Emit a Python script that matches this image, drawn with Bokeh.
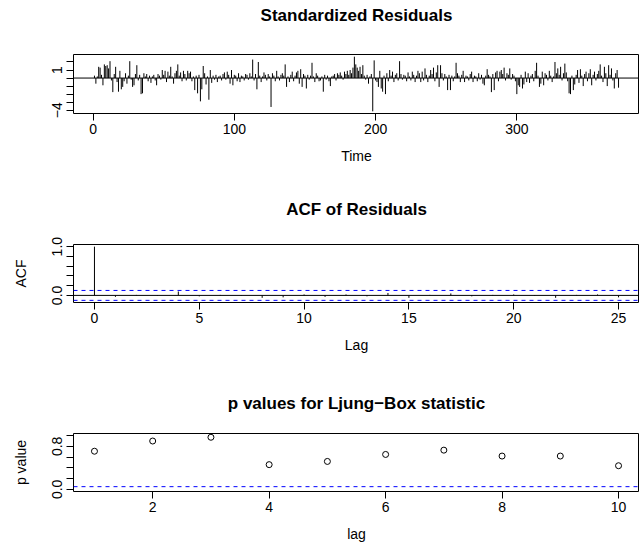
from bokeh.plotting import figure
from bokeh.layouts import column
from bokeh.models import Range1d, FixedTicker, Span, LinearAxis
from bokeh.embed import file_html
from bokeh.resources import INLINE

FONT = "Liberation Sans"

# ---------------- data ----------------
residuals = [
    0.3, -0.7, 0.2, 1.4, 1.3, 0.4, -0.9, 1.7, 1.5, 1.6,
    1.2, 2.1, -0.3, -1.75, 0.5, 1.4, -0.5, -1.7, 0.9, -1.4,
    -1.1, -0.4, 0.6, -0.7, 0.3, 2.1, -0.2, -1.1, -0.9, 0.5,
    1.6, -0.3, 0.4, -2.0, -1.9, 0.6, 0.2, 0.5, -0.4, 0.3,
    -0.6, 0.2, 0.4, -0.3, -0.9, 0.5, 0.3, -0.2, 1.0, 0.4,
    0.9, -0.5, 0.8, 0.3, 1.4, 0.2, -0.7, 0.6, 0.9, 1.7,
    0.3, 0.7, -0.4, 0.9, 0.5, -0.3, 0.9, 0.6, 0.8, -0.4,
    0.2, -1.5, 0.3, -1.9, 0.4, -2.9, -1.4, 1.5, 0.6, -0.8,
    0.2, -2.7, 1.0, -0.6, 0.3, -0.2, 0.4, -0.5, 0.2, 0.3,
    -0.3, 0.5, 0.7, -0.2, 0.8, 0.4, -0.7, 1.0, -0.9, 0.4,
    0.3, -0.4, 0.6, -0.5, 0.3, 0.2, -0.3, 0.5, 0.4, -0.2,
    0.6, 0.2, 2.3, -0.3, 0.5, -1.4, 2.0, 0.3, -0.5, 0.2,
    0.7, 0.4, -0.3, 0.5, 0.2, -3.6, 0.6, 0.3, -0.4, 0.9,
    0.2, -0.3, 0.4, 0.6, 0.3, 1.7, -1.1, 0.2, -0.5, 0.4,
    0.8, -0.4, 0.3, 0.7, 0.9, -0.7, 1.1, -1.1, 0.5, 0.3,
    -1.3, 0.4, -0.2, 0.3, 1.9, 0.2, -0.5, 0.6, 0.3, -0.4,
    -0.3, 0.2, -1.7, 0.4, -0.2, 0.3, -0.4, -1.0, 0.2, 0.3,
    0.5, -0.3, 0.6, 0.4, 0.7, 0.3, -0.2, 0.8, 0.5, 0.9,
    0.4, 1.0, 0.6, 1.3, 2.66, 1.7, 1.3, 0.9, 1.4, 0.5,
    1.6, 0.3, -0.2, 0.4, -0.7, 0.2, 0.5, -4.14, 2.2, -0.3,
    -0.5, -1.1, 0.9, -1.3, -1.7, 0.3, -2.0, 0.6, -0.4, 1.0,
    0.3, 0.8, -0.5, 0.4, 0.6, -0.3, 2.1, 0.5, -0.2, 0.4,
    0.3, -0.4, 0.7, 0.2, -0.3, 0.8, 0.4, -0.5, 0.3, 0.9,
    0.6, -0.5, 0.8, -0.3, 1.2, 0.4, -0.5, 0.3, 1.0, 0.5,
    1.3, -0.4, 0.7, 1.6, -1.1, 1.6, 0.6, -0.3, 0.5, 0.2,
    -1.5, 0.4, -1.5, 0.3, -0.4, 0.2, 1.9, 0.6, 0.3, -0.5,
    0.4, 0.9, -0.5, 0.3, 0.2, -0.3, 0.5, 0.8, -0.5, 0.3,
    0.2, -0.4, 0.6, -0.2, 0.4, -0.7, -0.9, 0.3, 1.1, 0.4,
    0.2, -1.75, 0.5, -1.5, 0.7, 0.9, -0.4, 0.8, 1.0, 0.5,
    1.3, -0.3, 0.6, 0.4, 1.2, -0.2, 0.5, 0.3, -0.4, -2.0,
    -0.9, -1.1, 0.4, -1.3, -0.8, 0.8, -0.5, 0.6, -0.6, 0.3,
    0.5, -0.4, 0.9, 1.9, 0.3, -1.1, -0.7, 0.8, -0.9, 0.6,
    0.4, -0.3, 0.9, 0.3, -0.5, 0.2, 2.0, 0.6, 1.2, 0.4,
    1.4, -0.3, 0.6, 1.8, 0.7, -0.4, -1.9, -2.0, 0.3, -1.5,
    -0.8, 0.4, 1.0, -0.6, 1.1, 0.3, -1.0, 0.5, 0.8, -0.4,
    0.6, 1.1, -0.9, 0.4, 0.8, -0.3, 0.5, 0.9, 1.7, 0.3,
    -0.5, 1.4, 0.6, -1.0, 1.6, 0.4, 1.2, -0.3, -1.3, 0.6,
    1.0, -1.2,
]
time = list(range(1, len(residuals) + 1))

acf_lags = list(range(0, 26))
acf_values = [
    1.0, -0.03, 0.01, -0.01, 0.08, -0.02, 0.01, -0.01, -0.05, -0.04,
    0.02, -0.03, 0.02, -0.02, 0.05, -0.05, 0.01, 0.04, -0.02, 0.01,
    0.02, -0.01, -0.05, 0.01, 0.02, -0.04,
]
acf_ci = 0.1016

lb_lags = [1, 2, 3, 4, 5, 6, 7, 8, 9, 10]
lb_pvalues = [0.71, 0.90, 0.97, 0.46, 0.52, 0.65, 0.73, 0.62, 0.62, 0.44]
lb_level = 0.05

res_xticks = [0, 100, 200, 300]
res_yticks = [-4, -3, -2, -1, 0, 1, 2]
res_ylabels = {-4: "\u22124", 1: "1"}
acf_xticks = [0, 5, 10, 15, 20, 25]
acf_yticks = [0, 0.2, 0.4, 0.6, 0.8, 1.0]
acf_ylabels = {0: "0.0", 1.0: "1.0"}
lb_xticks = [2, 4, 6, 8, 10]
lb_yticks = [0, 0.2, 0.4, 0.6, 0.8, 1.0]
lb_ylabels = {0: "0.0", 0.8: "0.8"}


def padded(lo, hi, f=0.04):
    d = (hi - lo) * f
    return Range1d(lo - d, hi + d)


def style(p, title, xticks, yticks, ylabels, xlabel, ylabel, gap):
    # title drawn as the label of an empty axis above the frame
    top = LinearAxis(ticker=FixedTicker(ticks=[]), axis_label=title,
                     axis_line_color=None, major_tick_out=0, major_tick_in=0,
                     major_tick_line_color=None, minor_tick_line_color=None,
                     major_label_standoff=0, axis_label_standoff=gap,
                     axis_label_text_font=FONT, axis_label_text_font_size="17px",
                     axis_label_text_font_style="bold", axis_label_text_color="black")
    p.add_layout(top, "above")
    p.outline_line_color = "black"
    p.outline_line_alpha = 1
    p.outline_line_width = 1
    p.xgrid.visible = False
    p.ygrid.visible = False
    p.background_fill_color = "white"
    p.border_fill_color = "white"
    for ax in (p.below[0], p.left[0]):
        ax.axis_line_color = None
        ax.major_tick_in = 0
        ax.major_tick_out = 7
        ax.major_tick_line_color = "black"
        ax.minor_tick_line_color = None
        ax.major_label_text_font = FONT
        ax.major_label_text_font_size = "14px"
        ax.major_label_text_color = "black"
        ax.axis_label_text_font = FONT
        ax.axis_label_text_font_size = "14px"
        ax.axis_label_text_font_style = "normal"
        ax.axis_label_text_color = "black"
    xa, ya = p.below[0], p.left[0]
    xa.ticker = FixedTicker(ticks=xticks)
    xa.major_label_standoff = 3
    xa.axis_label = xlabel
    xa.axis_label_standoff = 11
    ya.ticker = FixedTicker(ticks=yticks)
    ya.major_label_overrides = {t: ylabels.get(t, "") for t in yticks}
    ya.major_label_orientation = "vertical"
    ya.major_label_standoff = 4
    ya.axis_label = ylabel
    ya.axis_label_standoff = 21


common = dict(width=639, output_backend="svg", toolbar_location=None,
              title_location=None, min_border_left=73, min_border_right=0)

# ---- panel 1: standardized residuals ----
p1 = figure(height=190, min_border_top=54, min_border_bottom=77,
            x_range=padded(min(time), max(time)),
            y_range=padded(min(residuals), max(residuals)), **common)
p1.segment(x0=time, y0=[0] * len(time), x1=time, y1=residuals,
           line_color="black", line_width=1)
p1.add_layout(Span(location=0, dimension="width", line_color="black", line_width=1))
style(p1, "Standardized Residuals", res_xticks, res_yticks, res_ylabels, "Time", "", 30)

# ---- panel 2: ACF ----
p2 = figure(height=194, min_border_top=54, min_border_bottom=82,
            x_range=padded(min(acf_lags), max(acf_lags)),
            y_range=padded(min(min(acf_values), -acf_ci), max(acf_values)), **common)
p2.segment(x0=acf_lags, y0=[0] * len(acf_lags), x1=acf_lags, y1=acf_values,
           line_color="black", line_width=1)
p2.add_layout(Span(location=0, dimension="width", line_color="black", line_width=1))
for lvl in (acf_ci, -acf_ci):
    p2.add_layout(Span(location=lvl, dimension="width", line_color="blue",
                       line_width=1, line_dash="4 4"))
style(p2, "ACF of Residuals", acf_xticks, acf_yticks, acf_ylabels, "Lag", "ACF", 26)

# ---- panel 3: Ljung-Box p values ----
p3 = figure(height=167, min_border_top=49, min_border_bottom=60,
            x_range=padded(min(lb_lags), max(lb_lags)),
            y_range=padded(0, 1), **common)
p3.scatter(x=lb_lags, y=lb_pvalues, size=6, marker="circle",
           fill_color=None, line_color="black", line_width=1)
p3.add_layout(Span(location=lb_level, dimension="width", line_color="blue",
                   line_width=1, line_dash="4 4"))
style(p3, "p values for Ljung\u2212Box statistic", lb_xticks, lb_yticks, lb_ylabels,
      "lag", "p value", 21)

layout = column(p1, p2, p3)
open("out.html", "w").write(file_html(layout, INLINE))
